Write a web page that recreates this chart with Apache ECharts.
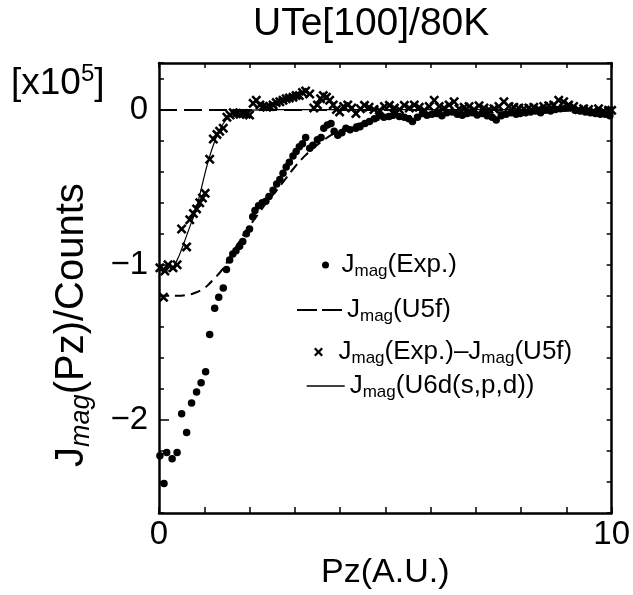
<!DOCTYPE html>
<html>
<head>
<meta charset="utf-8">
<script src="https://cdn.jsdelivr.net/npm/echarts@6/dist/echarts.min.js"></script>
<style>
html,body{margin:0;padding:0;background:#fff;}
#chart{width:633px;height:595px;}
</style>
</head>
<body>
<div id="chart"></div>
<script>
// ---- Data ----
const titleText = 'UTe[100]/80K';
const xTickLabels = [0, 10];
const yTickLabels = [-2, -1, 0];

// Jmag(Exp.) : [Pz, value(x10^5)]
const expPz = [0.02,0.11,0.17,0.29,0.40,0.50,0.61,0.72,0.83,0.93,1.03,1.12,1.23,1.32,1.42,1.49,1.56,1.63,1.70,1.78,1.85,1.93,2.00,2.07,2.12,2.20,2.28,2.36,2.43,2.52,2.60,2.67,2.74,2.81,2.88,2.96,3.03,3.10,3.17,3.24,3.33,3.40,3.50,3.58,3.64,3.72,3.80,3.87,3.95,4.04,4.13,4.22,4.35,4.44,4.55,4.65,4.76,4.87,4.97,5.08,5.20,5.31,5.42,5.52,5.60,5.71,5.82,5.92,6.03,6.14,6.25,6.36,6.48,6.59,6.70,6.81,6.92,7.03,7.14,7.25,7.36,7.45,7.56,7.67,7.78,7.89,7.98,8.10,8.21,8.32,8.43,8.54,8.65,8.76,8.87,8.98,9.08,9.19,9.30,9.42,9.53,9.64,9.75,9.86,9.96];
const expVal = [-2.23,-2.41,-2.21,-2.25,-2.21,-1.96,-2.08,-1.89,-1.82,-1.76,-1.69,-1.45,-1.28,-1.21,-1.15,-1.03,-0.97,-0.93,-0.91,-0.88,-0.85,-0.80,-0.77,-0.69,-0.65,-0.62,-0.60,-0.59,-0.56,-0.52,-0.48,-0.45,-0.41,-0.37,-0.34,-0.30,-0.27,-0.24,-0.22,-0.18,-0.25,-0.23,-0.195,-0.18,-0.12,-0.10,-0.09,-0.14,-0.165,-0.15,-0.12,-0.13,-0.12,-0.11,-0.09,-0.077,-0.06,-0.04,-0.05,-0.045,-0.03,-0.045,-0.05,-0.06,-0.077,-0.05,-0.025,-0.036,-0.03,-0.025,-0.04,-0.02,-0.015,-0.03,-0.036,-0.025,-0.02,-0.035,-0.025,-0.04,-0.05,-0.068,-0.04,-0.03,-0.02,-0.03,-0.025,-0.02,-0.015,-0.01,-0.02,-0.005,-0.01,0.0,0.005,0.01,0.015,-0.005,-0.01,-0.015,-0.02,-0.025,-0.03,-0.03,-0.04];

// Jmag(U5f) : dashed curve
const u5fPz  = [0,0.2,0.4,0.6,0.8,1.0,1.1,1.2,1.3,1.4,1.5,1.6,1.7,1.8,1.9,2.0,2.2,2.4,2.6,2.8,3.0,3.2,3.4,3.6,3.8,4.0,4.2,4.4,4.6,4.8,5.0,5.5,6.0,6.5,7.0,7.5,8.0,9.0,10.0];
const u5fVal = [-1.20,-1.20,-1.20,-1.195,-1.18,-1.15,-1.125,-1.095,-1.065,-1.03,-0.985,-0.935,-0.885,-0.84,-0.79,-0.75,-0.67,-0.59,-0.52,-0.445,-0.37,-0.305,-0.25,-0.205,-0.165,-0.135,-0.11,-0.092,-0.08,-0.07,-0.06,-0.045,-0.035,-0.028,-0.022,-0.018,-0.014,-0.008,-0.004];

// Jmag(Exp.) - Jmag(U5f) : crosses
const diffPz  = [0.02,0.10,0.13,0.20,0.31,0.40,0.50,0.61,0.68,0.76,0.83,0.90,0.96,1.02,1.12,1.20,1.28,1.34,1.42,1.50,1.57,1.64,1.71,1.79,1.86,1.93,2.00,2.08,2.15,2.23,2.30,2.38,2.45,2.52,2.59,2.67,2.74,2.81,2.88,2.96,3.03,3.10,3.17,3.24,3.33,3.42,3.50,3.57,3.63,3.70,3.77,3.85,3.92,3.99,4.08,4.17,4.26,4.35,4.45,4.54,4.64,4.75,4.87,4.98,5.09,5.20,5.31,5.42,5.53,5.64,5.75,5.86,5.97,6.08,6.19,6.30,6.41,6.52,6.63,6.74,6.85,6.96,7.07,7.18,7.29,7.40,7.51,7.62,7.73,7.84,7.95,8.06,8.17,8.28,8.39,8.50,8.61,8.72,8.83,8.94,9.05,9.16,9.27,9.38,9.49,9.60,9.71,9.82,9.93,10.0];
const diffVal = [-1.02,-1.21,-1.04,-1.00,-1.02,-1.00,-0.77,-0.885,-0.71,-0.67,-0.64,-0.60,-0.57,-0.54,-0.32,-0.19,-0.16,-0.14,-0.12,-0.05,-0.035,-0.02,-0.025,-0.03,-0.025,-0.03,-0.035,0.04,0.06,0.03,0.02,0.015,0.02,0.03,0.045,0.05,0.06,0.07,0.075,0.08,0.09,0.09,0.11,0.12,0.10,0.01,0.03,0.07,0.09,0.08,0.06,0.03,0.0,-0.015,0.02,0.03,0.01,-0.025,0.005,0.027,0.015,0.0,-0.005,0.02,0.027,0.01,0.0,0.027,0.01,0.03,0.015,-0.005,0.02,0.06,0.02,0.01,0.03,0.05,0.005,0.015,0.02,0.0,0.025,0.01,0.0,0.005,0.02,0.05,0.02,0.015,0.01,0.005,0.01,0.015,0.005,0.02,0.025,0.03,0.06,0.05,0.03,0.02,0.0,0.005,0.0,-0.01,0.005,-0.01,-0.005,-0.005];

// Jmag(U6d(s,p,d)) : thin solid curve
const u6dPz  = [0,0.1,0.2,0.3,0.4,0.5,0.6,0.7,0.8,0.9,1.0,1.1,1.2,1.3,1.4,1.5,1.6,1.7,1.8,2.0,2.5,10.0];
const u6dVal = [-1.03,-1.04,-1.04,-1.02,-0.97,-0.90,-0.82,-0.74,-0.66,-0.55,-0.43,-0.32,-0.23,-0.155,-0.10,-0.06,-0.035,-0.02,-0.01,-0.003,0,0];

const names = ['Jmag(Exp.)','Jmag(U5f)','Jmag(Exp.)–Jmag(U5f)','Jmag(U6d(s,p,d))'];

// ---- Chart ----
const zip = (a, b) => a.map((v, i) => [v, b[i]]);
const FONT = '"Liberation Sans", Arial, Helvetica, sans-serif';
const crossPath = 'path://M0,1.8L1.8,0L5,3.2L8.2,0L10,1.8L6.8,5L10,8.2L8.2,10L5,6.8L1.8,10L0,8.2L3.2,5Z';

function legendFmt(name) {
  const parts = name.split('Jmag');
  let s = '';
  parts.forEach((p, i) => {
    if (i > 0) s += '{a|J}{b|mag}';
    if (p) s += '{a|' + p + '}';
  });
  return s;
}
const legendRich = {
  a: {fontSize: 26, fontFamily: FONT, color: '#000', lineHeight: 30},
  b: {fontSize: 17, fontFamily: FONT, color: '#000', lineHeight: 20, verticalAlign: 'bottom'}
};
function mkLegend(name, left, centerY, w, h, extra) {
  return Object.assign({
    data: [name], orient: 'vertical', left: left, top: centerY - 15,
    itemWidth: w, itemHeight: h, padding: 0, selectedMode: false,
    formatter: legendFmt, textStyle: {rich: legendRich, color: '#000'}
  }, extra || {});
}

const axisLine = {show: true, onZero: false, lineStyle: {color: '#000', width: 2.5}};
const chart = echarts.init(document.getElementById('chart'), null, {renderer: 'canvas'});
chart.setOption({
  backgroundColor: '#fff',
  animation: false,
  title: {
    text: titleText, left: 253, top: 5, padding: 0,
    textStyle: {fontFamily: FONT, fontSize: 39, fontWeight: 'normal', color: '#000'}
  },
  graphic: [{
    type: 'text', left: 11, top: 62,
    style: {
      text: '{a|[x10}{s|5}{a|]}',
      rich: {
        a: {fontFamily: FONT, fontSize: 37, lineHeight: 44, fill: '#000'},
        s: {fontFamily: FONT, fontSize: 24, lineHeight: 30, fill: '#000', verticalAlign: 'top'}
      }
    }
  }],
  grid: {left: 159, right: 20, top: 63, bottom: 77},
  legend: [
    mkLegend(names[0], 322, 267, 22, 7),
    mkLegend(names[1], 296, 312, 45, 12, {lineStyle: {type: [20, 5], width: 2}, itemStyle: {opacity: 0}}),
    mkLegend(names[2], 314, 354, 30, 9),
    mkLegend(names[3], 306, 388, 38, 12, {lineStyle: {width: 1.4}, itemStyle: {opacity: 0}})
  ],
  xAxis: [{
    type: 'value', min: 0, max: 10, interval: 1, position: 'bottom',
    axisLine: axisLine,
    axisTick: {inside: true, length: 6, lineStyle: {color: '#000', width: 1.5}},
    axisLabel: {customValues: xTickLabels, fontFamily: FONT, fontSize: 33, color: '#000', margin: 5},
    splitLine: {show: false},
    name: 'Pz(A.U.)', nameLocation: 'middle', nameGap: 42,
    nameTextStyle: {fontFamily: FONT, fontSize: 34, color: '#000'}
  }, {
    type: 'value', min: 0, max: 10, interval: 1, position: 'top',
    axisLine: axisLine,
    axisTick: {inside: true, length: 5, lineStyle: {color: '#000', width: 1.5}},
    axisLabel: {show: false}, splitLine: {show: false}
  }],
  yAxis: [{
    type: 'value', min: -2.6, max: 0.3, position: 'left', offset: 0,
    axisLine: axisLine,
    axisTick: {inside: true, length: 10, customValues: yTickLabels, lineStyle: {color: '#000', width: 1.5}},
    axisLabel: {
      customValues: yTickLabels, fontFamily: FONT, fontSize: 33, color: '#000', margin: 11,
      formatter: v => (v < 0 ? '−' + Math.abs(v) : String(v))
    },
    splitLine: {show: false},
    name: '{a|J}{b|mag}{a|(Pz)/Counts}', nameLocation: 'middle', nameGap: 64, nameRotate: 90,
    nameTextStyle: {
      padding: [0, 74, 0, 0],
      rich: {
        a: {fontFamily: FONT, fontSize: 40, lineHeight: 46, color: '#000'},
        b: {fontFamily: FONT, fontSize: 27, fontStyle: 'italic', lineHeight: 26, color: '#000', verticalAlign: 'bottom'}
      }
    }
  }, {
    type: 'value', min: -2.6, max: 0.3, interval: 0.2, position: 'left', offset: 0,
    axisLine: {show: false},
    axisTick: {inside: true, length: 5, lineStyle: {color: '#000', width: 1.5}},
    axisLabel: {show: false}, splitLine: {show: false}
  }, {
    type: 'value', min: -2.6, max: 0.3, interval: 0.2, position: 'right', offset: 0,
    axisLine: axisLine,
    axisTick: {inside: true, length: 5, lineStyle: {color: '#000', width: 1.5}},
    axisLabel: {show: false}, splitLine: {show: false}
  }],
  series: [{
    name: names[1], type: 'line', data: zip(u5fPz, u5fVal), smooth: true,
    symbol: 'none', z: 2,
    lineStyle: {color: '#000', width: 2, type: [10, 6]},
    itemStyle: {color: '#000'},
    markLine: {
      silent: true, symbol: 'none', label: {show: false},
      lineStyle: {color: '#000', width: 2, type: [18, 7]},
      data: [{yAxis: 0}]
    }
  }, {
    name: names[3], type: 'line', data: zip(u6dPz, u6dVal), smooth: true,
    symbol: 'none', z: 2,
    lineStyle: {color: '#000', width: 1.2},
    itemStyle: {color: '#000'}
  }, {
    name: names[0], type: 'scatter', data: zip(expPz, expVal),
    symbol: 'circle', symbolSize: 7.5, z: 3,
    itemStyle: {color: '#000', opacity: 1}
  }, {
    name: names[2], type: 'scatter', data: zip(diffPz, diffVal),
    symbol: crossPath, symbolSize: 10, symbolKeepAspect: true, z: 3,
    itemStyle: {color: '#000', opacity: 1}
  }]
});
</script>
</body>
</html>
